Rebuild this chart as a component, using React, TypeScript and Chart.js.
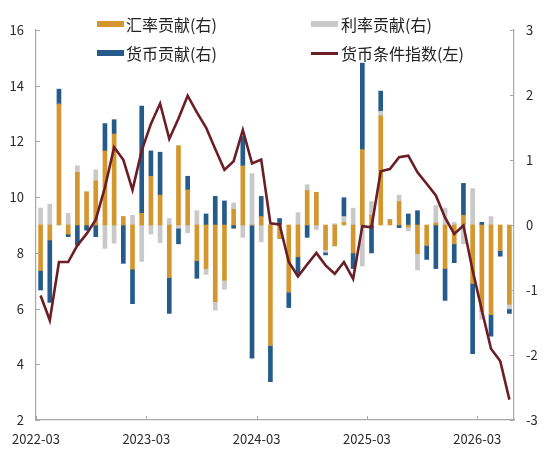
import React, { useEffect, useRef } from "react";
import { Chart, registerables } from "chart.js";

Chart.register(...registerables);

// Months 2022-03 .. 2026-06
const categories = [
  "2022-03", "2022-04", "2022-05", "2022-06", "2022-07", "2022-08", "2022-09", "2022-10", "2022-11", "2022-12",
  "2023-01", "2023-02", "2023-03", "2023-04", "2023-05", "2023-06", "2023-07", "2023-08", "2023-09", "2023-10",
  "2023-11", "2023-12", "2024-01", "2024-02", "2024-03", "2024-04", "2024-05", "2024-06", "2024-07", "2024-08",
  "2024-09", "2024-10", "2024-11", "2024-12", "2025-01", "2025-02", "2025-03", "2025-04", "2025-05", "2025-06",
  "2025-07", "2025-08", "2025-09", "2025-10", "2025-11", "2025-12", "2026-01", "2026-02", "2026-03", "2026-04",
  "2026-05", "2026-06",
];

const fxContribution = [
  -0.70, -0.23, 1.86, -0.14, 0.81, 0.51, 0.68, 1.14, 1.40, 0.13,
  -0.68, 0.18, 0.75, 0.46, -0.81, 1.22, 0.54, -0.55, -0.67, -1.18,
  -0.85, 0.24, 0.91, 0, 0.13, -1.85, -0.21, -1.03, -0.49, 0.53,
  0.50, -0.38, -0.32, 0.04, -0.43, 1.16, 0.15, 1.68, 0.08, 0.36,
  -0.03, -0.44, -0.31, 0.03, -0.67, -0.29, 0.15, -0.90, -1.33, -1.38,
  -0.39, -1.22,
];

const rateContribution = [
  0.26, 0.32, 0, 0.18, 0.10, 0, 0.17, -0.36, -0.28, 0,
  0.15, -0.56, -0.14, -0.27, 0.10, -0.05, -0.12, 0.22, -0.09, -0.13,
  -0.14, 0.10, -0.19, 0.79, -0.26, 0, 0, 0, 0.19, 0.09,
  -0.07, -0.04, 0.02, 0.09, 0.26, -0.63, 0.21, 0.07, 0, 0.10,
  -0.06, -0.25, 0, 0.27, 0.26, 0.04, -0.29, 0.56, -0.12, 0.13,
  0, -0.07,
];

const moneyContribution = [
  -0.30, -0.96, 0.23, -0.04, -0.31, -0.08, -0.18, 0.42, 0.22, -0.59,
  -0.53, 1.65, 0.39, 0.66, -0.55, -0.24, 0.21, -0.27, 0.17, 0.44,
  0.37, -0.05, 0.45, -2.05, 0.31, -0.56, 0.10, -0.24, -0.26, -0.19,
  0, -0.04, 0, 0.29, -0.24, 1.33, -0.43, 0.31, 0, -0.04,
  0.17, 0.22, -0.22, -0.67, -0.49, -0.29, 0.49, -1.08, 0.04, -0.33,
  -0.09, -0.07,
];

const mciIndex = [
  6.47, 5.58, 7.67, 7.67, 8.27, 8.68, 9.19, 10.35, 11.79, 11.34,
  10.26, 11.67, 12.63, 13.36, 12.09, 12.82, 13.64, 13.04, 12.5, 11.73,
  10.98, 11.29, 12.41, 11.21, 11.35, 9.06, 9.02, 7.67, 7.15, 7.58,
  8.0, 7.55, 7.25, 7.67, 7.07, 8.96, 8.92, 10.93, 11.01, 11.43,
  11.49, 10.89, 10.48, 10.06, 9.26, 8.68, 8.98, 7.37, 5.94, 4.56,
  4.12, 2.73,
];

const xTickLabels = ["2022-03", "2023-03", "2024-03", "2025-03", "2026-03"];
const leftTicks = [2, 4, 6, 8, 10, 12, 14, 16];
const rightTicks = [-3, -2, -1, 0, 1, 2, 3];

const seriesNames = ["汇率贡献(右)", "利率贡献(右)", "货币贡献(右)", "货币条件指数(左)"];

const ORANGE = "#D4962F";
const GRAY = "#C9C9C9";
const BLUE = "#245B8B";
const LINE = "#6B1E25";
const AXIS = "#A8A8A8";
const TEXT = "#2a2a2a";
const FONT = "'Noto Sans CJK SC', 'Noto Sans', sans-serif";

const xTickPositions = xTickLabels.map((l) => categories.indexOf(l));

const inwardTicks = {
  id: "inwardTicks",
  afterDatasetsDraw(chart: any) {
    const { ctx, chartArea, scales } = chart;
    const len = 4;
    ctx.save();
    ctx.strokeStyle = AXIS;
    ctx.lineWidth = 1;
    ctx.beginPath();
    scales.y.ticks.forEach((t: any) => {
      const y = Math.round(scales.y.getPixelForValue(t.value)) + 0.5;
      ctx.moveTo(chartArea.left, y);
      ctx.lineTo(chartArea.left + len, y);
    });
    scales.y1.ticks.forEach((t: any) => {
      const y = Math.round(scales.y1.getPixelForValue(t.value)) + 0.5;
      ctx.moveTo(chartArea.right, y);
      ctx.lineTo(chartArea.right - len, y);
    });
    scales.x.ticks.forEach((t: any) => {
      const x = Math.round(scales.x.getPixelForValue(t.value)) + 0.5;
      ctx.moveTo(x, chartArea.bottom);
      ctx.lineTo(x, chartArea.bottom - len);
    });
    ctx.stroke();
    ctx.restore();
  },
};

function toPoints(values: number[]) {
  return values.map((v, i) => ({ x: i + 0.5, y: v }));
}

export default function App() {
  const canvasRef = useRef<HTMLCanvasElement | null>(null);

  useEffect(() => {
    if (!canvasRef.current) return;
    const barCommon = {
      type: "bar" as const,
      yAxisID: "y1",
      stack: "contrib",
      barThickness: 4,
      borderWidth: 0,
      order: 2,
    };
    const chart = new Chart(canvasRef.current, {
      type: "bar",
      data: {
        datasets: [
          { ...barCommon, label: seriesNames[0], data: toPoints(fxContribution), backgroundColor: ORANGE },
          { ...barCommon, label: seriesNames[1], data: toPoints(rateContribution), backgroundColor: GRAY },
          { ...barCommon, label: seriesNames[2], data: toPoints(moneyContribution), backgroundColor: BLUE },
          {
            type: "line",
            label: seriesNames[3],
            yAxisID: "y",
            data: toPoints(mciIndex),
            borderColor: LINE,
            backgroundColor: LINE,
            borderWidth: 2.6,
            pointRadius: 0,
            tension: 0,
            order: 1,
          } as any,
        ],
      },
      options: {
        animation: false,
        responsive: true,
        maintainAspectRatio: false,
        layout: { padding: { top: 30, left: 0, right: 0, bottom: 0 } },
        plugins: {
          legend: { display: false },
          tooltip: { enabled: false },
        },
        scales: {
          x: {
            type: "linear",
            offset: false,
            min: 0,
            max: categories.length,
            afterBuildTicks: (scale: any) => {
              scale.ticks = xTickPositions.map((v) => ({ value: v }));
            },
            afterFit: (scale: any) => {
              scale.height = 39;
            },
            grid: { display: false, drawTicks: false, offset: false },
            border: { display: true, color: AXIS, width: 1.2 },
            ticks: {
              autoSkip: false,
              maxRotation: 0,
              padding: 11,
              color: TEXT,
              font: { family: FONT, size: 13 },
              callback: (_v: any, i: number) => xTickLabels[i],
            },
          },
          y: {
            type: "linear",
            position: "left",
            min: 2,
            max: 16,
            afterBuildTicks: (scale: any) => {
              scale.ticks = leftTicks.map((v) => ({ value: v }));
            },
            afterFit: (scale: any) => {
              scale.width = 36;
            },
            grid: { display: false, drawTicks: false },
            border: { display: true, color: AXIS, width: 1.2 },
            ticks: {
              padding: 12,
              color: TEXT,
              font: { family: FONT, size: 13 },
            },
          },
          y1: {
            type: "linear",
            position: "right",
            min: -3,
            max: 3,
            stacked: true,
            afterBuildTicks: (scale: any) => {
              scale.ticks = rightTicks.map((v) => ({ value: v }));
            },
            afterFit: (scale: any) => {
              scale.width = 37;
            },
            grid: { display: false, drawTicks: false },
            border: { display: true, color: AXIS, width: 1.2 },
            ticks: {
              padding: 12,
              color: TEXT,
              font: { family: FONT, size: 13 },
            },
          },
        },
      } as any,
      plugins: [inwardTicks],
    });
    return () => chart.destroy();
  }, []);

  const legendText: React.CSSProperties = {
    position: "absolute",
    fontFamily: FONT,
    fontSize: 16,
    color: "#222",
    height: 24,
    lineHeight: "24px",
    whiteSpace: "nowrap",
  };

  return (
    <div style={{ position: "fixed", left: 0, top: 0, width: 551, height: 459, background: "#fff" }}>
      <canvas ref={canvasRef} />
      <div style={{ position: "absolute", left: 97, top: 21, width: 27, height: 6, background: ORANGE }} />
      <div style={{ ...legendText, left: 126, top: 12 }}>{seriesNames[0]}</div>
      <div style={{ position: "absolute", left: 311, top: 21, width: 27, height: 6, background: GRAY }} />
      <div style={{ ...legendText, left: 341, top: 12 }}>{seriesNames[1]}</div>
      <div style={{ position: "absolute", left: 97, top: 50, width: 27, height: 6, background: BLUE }} />
      <div style={{ ...legendText, left: 126, top: 41 }}>{seriesNames[2]}</div>
      <div style={{ position: "absolute", left: 311, top: 52, width: 27, height: 2.5, background: LINE }} />
      <div style={{ ...legendText, left: 341, top: 41 }}>{seriesNames[3]}</div>
    </div>
  );
}
